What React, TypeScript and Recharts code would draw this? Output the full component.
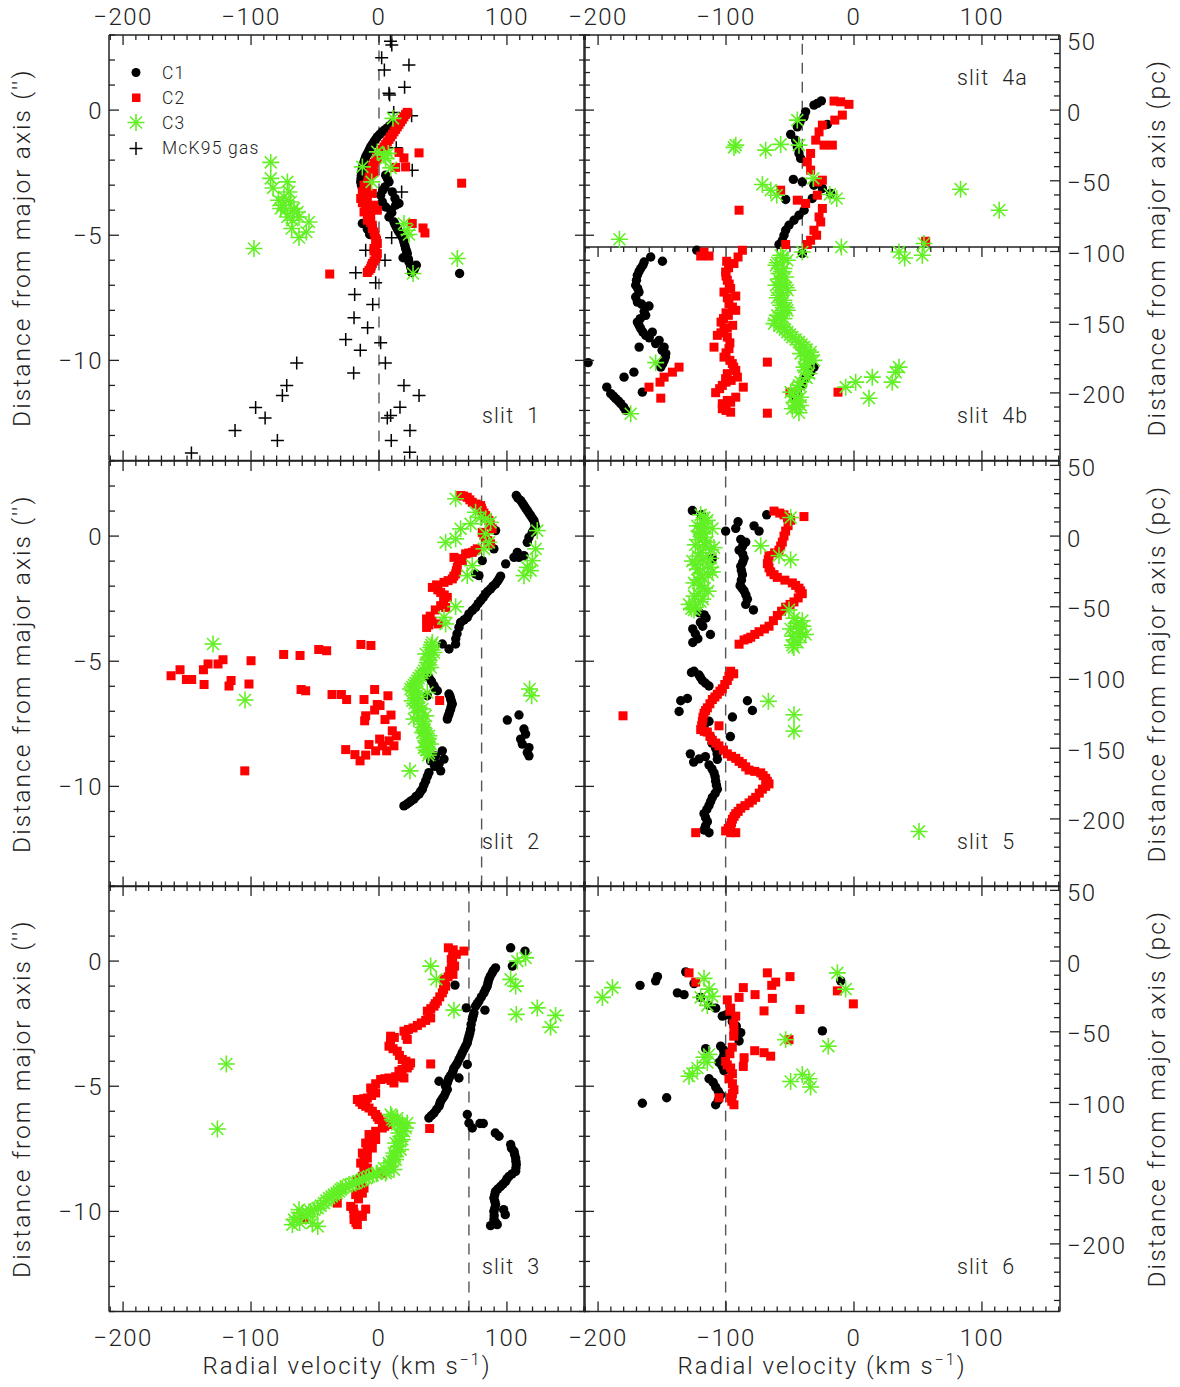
import React from 'react';
import { ScatterChart, Scatter, XAxis, YAxis, ReferenceLine, ReferenceDot, Legend } from 'recharts';

type P = [number, number]; // [radial velocity km/s, distance arcsec]

// ---------- axis tick values ----------
const X_TICKS = [-210, -200, -190, -180, -170, -160, -150, -140, -130, -120, -110, -100, -90, -80, -70, -60, -50, -40, -30, -20, -10, 0, 10, 20, 30, 40, 50, 60, 70, 80, 90, 100, 110, 120, 130, 140, 150, 160];
const Y_TICKS = [-14, -13, -12, -11, -10, -9, -8, -7, -6, -5, -4, -3, -2, -1, 0, 1, 2, 3];
const Y_TICKS_HALF = [-14, -13.5, -13, -12.5, -12, -11.5, -11, -10.5, -10, -9.5, -9, -8.5, -8, -7.5, -7, -6.5, -6, -5.5, -5, -4.5, -4, -3.5, -3, -2.5, -2, -1.5, -1, -0.5, 0, 0.5, 1, 1.5, 2, 2.5, 3];
const PC_TICKS = [-240, -230, -220, -210, -200, -190, -180, -170, -160, -150, -140, -130, -120, -110, -100, -90, -80, -70, -60, -50, -40, -30, -20, -10, 0, 10, 20, 30, 40, 50];
const SEP_TICKS = X_TICKS;

const X_DOMAIN: [number, number] = [-211, 161];
const Y_DOMAIN: [number, number] = [-14, 3];
const PC_PER_ARCSEC = 17.7;
const PC_DOMAIN: [number, number] = [-14 * PC_PER_ARCSEC, 3 * PC_PER_ARCSEC];

// ---------- slit 1 ----------
const slit1Gas: P[] = [[9, 2.75], [10, 2.6], [2.1, 2.09], [4.2, 1.6], [23.4, 1.8], [20, 0.91], [7.8, 0.67], [8.3, 0.6], [25.5, -0.23], [11.5, -0.1], [13.5, -1.5], [26, -2.4], [17.7, -3.27], [9.9, -5.1], [-10.4, -5.6], [4.7, -6.0], [-18.2, -6.5], [-2.6, -6.9], [-19, -7.37], [-4.9, -7.77], [-19.5, -8.3], [-8.9, -8.7], [-26, -9.17], [-14.6, -9.6], [1.3, -9.3], [5, -10.1], [-64.3, -10.1], [-19.8, -10.5], [-72.1, -11], [-75.5, -11.4], [19.5, -11], [31.3, -11.4], [16.4, -11.87], [9.1, -12.2], [6.5, -12.3], [-96.4, -11.88], [-89, -12.3], [-112.5, -12.8], [24.2, -12.8], [-79.4, -13.2], [9.6, -13.2], [-146.6, -13.7], [24, -13.67]];
const slit1C1: P[] = [[10.4, -0.53], [6.5, -0.71], [2.6, -0.87], [-1.3, -1.07], [-3.9, -1.27], [-6.5, -1.47], [-8.3, -1.67], [-10.4, -1.87], [-11.7, -2.07], [-13.0, -2.33], [-13.8, -2.6], [-14.3, -2.87], [-13.0, -3.13], [5.2, -2.6], [7.8, -2.87], [4.7, -3.07], [1.3, -3.4], [2.6, -3.67], [5.2, -3.87], [9.1, -4.0], [7.8, -4.27], [11.7, -4.47], [13.5, -4.67], [15.6, -4.87], [18.2, -5.07], [19.5, -5.27], [20.8, -5.53], [22.1, -5.73], [18.8, -5.9], [23.4, -6.07], [24.7, -6.27], [27.3, -6.4], [29.2, -6.2], [25.5, -6.49], [-13.0, -4.53], [-9.1, -4.76], [-7.3, -4.97], [63.0, -6.53], [15.6, -3.73], [12.5, -3.53], [13.0, -3.8], [10.4, -3.27],
  [8.5, -0.62], [4.5, -0.79], [0.6, -0.97], [-2.6, -1.17], [-5.2, -1.37], [-7.4, -1.57], [-9.4, -1.77], [-11, -1.97], [-12.4, -2.2], [-13.5, -2.47], [-14, -2.73], [-13.7, -3.0], [6.5, -2.73], [3, -3.2], [10, -4.1], [12.6, -4.57], [14.5, -4.77], [16.9, -4.97], [19, -5.17], [20.2, -5.4], [21.5, -5.63], [23, -5.95], [26, -6.35], [28, -6.3]];
const slit1C2: P[] = [[22.1, -0.09], [19.5, -0.27], [16.9, -0.47], [14.3, -0.67], [11.7, -0.87], [9.1, -1.07], [6.5, -1.27], [3.9, -1.47], [1.3, -1.67], [-1.3, -1.87], [-3.9, -2.13], [-6.5, -2.4], [-7.8, -2.67], [-9.1, -2.93], [-10.4, -3.2], [-13.0, -3.27], [-14.3, -3.53], [-9.1, -3.67], [-7.8, -3.93], [-6.5, -4.2], [-9.1, -4.4], [-5.2, -4.6], [-3.9, -4.87], [-2.6, -5.13], [-1.3, -5.33], [-3.9, -5.53], [-1.3, -5.73], [-2.6, -5.93], [-5.2, -6.13], [-6.5, -6.33], [-9.1, -6.49], [-11.7, -3.0], [-5.2, -3.33], [31.3, -1.71], [15.6, -1.69], [19.5, -1.91], [13, -2.29], [20.8, -2.27], [64.6, -2.92], [26, -4.53], [34.4, -4.71], [35.9, -4.91], [-38.5, -6.55],
  [20.8, -0.17], [18.2, -0.37], [15.6, -0.57], [13, -0.77], [10.4, -0.97], [7.8, -1.17], [5.2, -1.37], [2.6, -1.57], [0, -1.77], [-2.6, -2.0], [-5.2, -2.27], [-6.5, -2.53], [-8.5, -2.8], [-9.8, -3.07], [-12, -3.4], [-13, -3.7], [-10.4, -3.8], [-11.7, -4.07], [-8.5, -4.07], [-7.8, -4.33], [-6.5, -4.5], [-5.2, -4.73], [-3.2, -5.0], [-1.9, -5.2], [-2.6, -5.43], [-3.9, -5.63], [-1.9, -5.83], [-3.9, -6.03], [-6, -6.23], [-7.8, -6.4], [-1.3, -4.0], [-3.9, -3.8], [-2, -1.97], [-4, -2.5]];
const slit1C3: P[] = [[-84.6, -2.09], [-84.6, -2.73], [-82.8, -3.11], [-71.6, -2.87], [-70.3, -3.27], [-78.6, -3.6], [-75.5, -3.8], [-72.9, -4.0], [-69, -3.67], [-66.4, -3.93], [-63.8, -4.07], [-71.6, -4.27], [-67.7, -4.4], [-62.5, -4.27], [-68.2, -4.73], [-54.7, -4.47], [-56.8, -4.87], [-62.5, -5.09], [-76.8, -3.93], [-74.2, -3.47], [-97.7, -5.53], [10.9, -0.33], [-1.3, -1.67], [3.9, -1.8], [7.3, -1.73], [5.2, -1.93], [9.1, -2.31], [-13, -2.27], [-5.7, -2.87], [19.5, -4.53], [22.1, -4.8], [23.4, -4.97], [26.6, -6.53], [61.2, -5.93]];

// ---------- slit 4 (4a above the split, 4b below) ----------
const slit4Split = -5.47;
const slit4aSystemic = -40.4;
const slit4C1: P[] = [[-25.5, 0.37], [-28.6, 0.27], [-31.3, 0.2], [-37.8, -0.07], [-39, -0.27], [-42.2, -0.47], [-44.3, -0.67], [-49.5, -0.97], [-45.6, -1.2], [-44.3, -1.47], [-43, -1.73], [-41.7, -1.93], [-47.4, -2.77], [-40.4, -2.87], [-31.3, -3], [-24.7, -3.13], [-18.2, -3.33], [-53.4, -3.57], [-32.6, -3.53], [-39, -4], [-43, -4.2], [-46.9, -4.4], [-50.8, -4.6], [-53.4, -4.8], [-54.7, -5], [-56, -5.2], [-58.6, -5.37], [-20.8, -0.57],
  [-122.9, -5.6], [-40.4, -5.73], [-158.9, -5.87], [-164, -6.07], [-149.7, -6.04], [-166.7, -6.33], [-169.3, -6.6], [-170.6, -7], [-168, -7.27], [-170.6, -7.47], [-169.3, -7.67], [-160.2, -7.83], [-162.8, -8.2], [-169.3, -8.47], [-166.7, -8.73], [-162.8, -9], [-157.6, -8.87], [-152.3, -9.2], [-148.4, -9.47], [-147.1, -9.73], [-148.4, -10], [-151, -10.27], [-167.9, -9.47], [-172, -10.47], [-179.7, -10.67], [-165.4, -11.27], [-193.2, -11.07], [-190.1, -11.33], [-186.2, -11.53], [-182.3, -11.73], [-178.4, -12], [-207.8, -10.09], [-31.3, -10.27], [-33.9, -10.47], [-37.8, -10.73], [-40.4, -11], [-44.3, -11.27], [-45.6, -11.47],
  [-165, -6.2], [-168, -6.45], [-170, -6.8], [-169, -7.13], [-166, -7.75], [-164, -8.05], [-167, -8.33], [-168, -8.6], [-165, -8.87], [-160, -9.1], [-155, -9.33], [-150, -9.6], [-147.5, -9.87], [-149.5, -10.13], [-188, -11.43], [-184, -11.63], [-180, -11.87]];
const slit4C2: P[] = [[-15.6, 0.36], [-10.4, 0.33], [-3.9, 0.23], [-9.1, -0.2], [-15, -0.4], [-24.7, -0.6], [-27.3, -0.87], [-29.9, -1.2], [-16.9, -1.4], [-23.4, -1.4], [-33.9, -1.73], [-36.5, -2.07], [-33.9, -2.4], [-24.7, -2.8], [-28.6, -2.87], [-57.3, -3.2], [-44.3, -3.6], [-37.8, -3.73], [-28.6, -3.4], [-24.7, -3.93], [-27.3, -4.27], [-26, -4.47], [-31.3, -4.8], [-29.2, -5], [-33.9, -5.2], [-36.5, -5.37], [-89.8, -4], [-53.4, -5.37], [56, -5.24],
  [-117.2, -5.67], [-119.8, -5.83], [-113.3, -5.83], [-87.2, -5.6], [-90.6, -5.87], [-93.8, -6.13], [-99.5, -6.04], [-100.3, -6.47], [-99, -6.8], [-96.4, -7.13], [-101.6, -7.27], [-92.4, -7.43], [-97.7, -7.73], [-92.4, -8], [-98.2, -8.2], [-103.9, -8.47], [-94.8, -8.6], [-101.6, -8.8], [-106.8, -9], [-99, -9.07], [-109.4, -9.47], [-97.7, -9.53], [-101.6, -9.87], [-95.1, -10.13], [-92.4, -10.4], [-99, -10.53], [-91.1, -10.67], [-100.3, -10.73], [-102.9, -11], [-86.5, -11.07], [-108.1, -11.29], [-92.4, -11.47], [-96.4, -11.67], [-102.9, -11.73], [-102.9, -11.93], [-96.4, -12.07], [-67.7, -10.07], [-67.7, -12.11], [-136.7, -10.27], [-141.9, -10.47], [-148.4, -10.67], [-151.6, -10.87], [-160.2, -11.07], [-151, -11.51], [-50, -11.27], [-12.5, -11.27],
  [-98, -6.3], [-100, -6.63], [-97.5, -6.95], [-99, -7.5], [-95, -7.87], [-100, -8.1], [-102, -8.33], [-99, -8.7], [-104, -8.9], [-97, -9.3], [-100, -9.7], [-97, -10.0], [-94, -10.27], [-96, -10.8], [-100, -10.87], [-105, -11.13], [-99, -11.6], [-100, -12.0]];
const slit4C3: P[] = [[-44.3, -0.4], [-43, -1.4], [-93.8, -1.49], [-92.4, -1.4], [-69, -1.6], [-57.3, -1.37], [-71.6, -2.97], [-65, -3.2], [-60.4, -3.4], [-31.8, -2.73], [-18.8, -3.37], [-13.5, -3.53], [83.3, -3.16], [113.5, -4], [-183.3, -5.16], [54.7, -5.33], [-9.9, -5.47],
  [-57.3, -5.8], [-52.1, -6], [-61, -6.2], [-54.7, -6.33], [-58.6, -6.53], [-53.4, -6.67], [-61, -7], [-55.7, -7], [-51.8, -7.2], [-58.6, -7.4], [-54.7, -7.6], [-57.3, -7.8], [-52.1, -8], [-59.9, -8.2], [-54.7, -8.33], [-62.5, -8.53], [-56, -8.67], [-52.1, -8.87], [-48.2, -9.07], [-43, -9.27], [-39, -9.47], [-33.9, -9.67], [-41.7, -9.73], [-36.5, -9.93], [-31.3, -10], [-39, -10.27], [-35.2, -10.53], [-41.7, -10.87], [-44.3, -11.13], [-49.5, -11.27], [-41.7, -11.47], [-46.9, -11.67], [-41.7, -11.8], [-48.2, -11.93], [-43, -12.09], [-55.2, -5.91], [-57.8, -6.87], [-54.7, -8],
  [-56, -5.9], [-60, -6.1], [-56.5, -6.45], [-59, -6.75], [-56, -6.9], [-53, -7.1], [-57, -7.3], [-60, -7.5], [-56, -7.7], [-53, -7.9], [-57, -8.1], [-61, -8.4], [-58, -8.6], [-54, -8.77], [-50, -8.97], [-45.5, -9.17], [-41, -9.37], [-37, -9.57], [-38, -9.83], [-34, -9.8], [-37, -10.13], [-38, -10.4], [-37, -10.7], [-43, -11], [-47, -11.4], [-44, -11.6], [-45, -11.85],
  [-40.4, -5.67], [35.2, -5.67], [39.6, -5.91], [53.4, -5.8], [-155, -10.09], [-174.5, -12.13], [-6.5, -11.07], [1.3, -10.87], [14.3, -10.67], [11.7, -11.51], [29.9, -10.87], [32.6, -10.47], [35.2, -10.27]];

// ---------- slit 2 ----------
const slit2Systemic = 80.2;
const slit2C1: P[] = [[107.3, 1.62], [110.7, 1.42], [113.3, 1.22], [115.9, 1.02], [118.5, 0.82], [121.1, 0.62], [122.4, 0.35], [119.8, 0.15], [117.2, -0.05], [115.9, -0.25], [108.1, -0.65], [105.5, -0.85], [99, -1.11], [109.4, -0.85], [113.3, -0.78],
  [108.5, 1.52], [112, 1.32], [114.6, 1.12], [117.2, 0.92], [119.8, 0.72], [121.8, 0.48], [121, 0.25],
  [93.8, -1.71], [91.1, -1.91], [87.2, -2.11], [83.3, -2.31], [79.4, -2.58], [75.5, -2.85], [70.3, -3.11], [69, -3.25], [63.8, -3.45], [62.5, -3.65], [59.9, -4.31], [54.7, -4.51], [49.5, -4.31],
  [95, -1.6], [92.5, -1.81], [89, -2.0], [85, -2.21], [81.5, -2.45], [77.5, -2.7], [73, -2.97], [66.5, -3.35], [61, -3.9], [60, -4.1],
  [91.1, 0.22], [89.8, -0.51], [80.7, -0.98], [78.1, -1.58], [75.5, -1.51],
  [39, -5.65], [43, -5.98], [45.6, -6.18], [37.8, -6.38], [54.7, -6.31], [56, -6.51], [57.3, -6.71], [56, -6.91], [54.7, -7.11], [53.4, -7.31], [49.5, -8.58], [50.8, -8.91], [48.2, -9.38], [44.3, -8.78], [40.4, -8.98], [39, -9.45], [36.5, -9.78], [33.9, -10.11], [31.3, -10.31], [27.3, -10.51], [23.4, -10.65], [19.5, -10.78],
  [47, -9.1], [43.5, -9.2], [37.8, -9.6], [35, -9.95], [32.5, -10.2], [29, -10.4], [25, -10.58], [21.5, -10.72], [41, -5.8], [44, -6.1], [55.5, -6.4], [56.6, -6.6], [56.5, -6.8], [55.3, -7.0], [54, -7.2],
  [100.3, -7.35], [109.4, -7.15], [113.3, -7.71], [114.6, -7.91], [110.7, -8.11], [112, -8.31], [117.2, -8.45], [115.9, -8.65], [117.2, -8.78]];
const slit2C2: P[] = [[63.8, 1.62], [69, 1.55], [72.9, 1.35], [79.4, 1.22], [80.7, 1.02], [83.3, 0.82], [85.9, 0.62], [88.5, 0.29], [80.7, 0.15], [83.3, -0.05], [87.2, -0.31], [76.8, -0.51], [72.9, -0.65], [67.7, -0.71], [58.6, -0.85], [65.1, -0.98], [61.2, -1.25], [59.9, -1.51], [57.3, -1.71], [50.8, -1.85], [41.7, -2.05], [48.2, -2.25], [53.4, -2.45], [48.2, -2.78], [52.1, -2.85], [37.2, -3.31], [37.2, -3.65], [46.3, -3.51],
  [66, 1.6], [71, 1.45], [76, 1.28], [80, 1.12], [82, 0.92], [84.6, 0.72], [87, 0.45], [82, 0.02], [85, -0.18], [75, -0.58], [70, -0.68], [62, -0.9], [60.5, -1.38], [58.5, -1.6], [54, -1.78], [45, -1.95], [46, -2.15], [51, -2.35], [50.5, -2.6], [44, -2.95], [40, -3.2], [41.5, -3.4], [39, -3.55],
  [-162.5, -5.58], [-155.5, -5.34], [-150.5, -5.73], [-146.4, -5.73], [-137.2, -5.34], [-133.6, -5.11], [-136.7, -5.93], [-125.8, -5.11], [-121.9, -4.94], [-115.6, -5.77], [-117.2, -5.99], [-101.6, -5.91], [-100, -4.98], [-74.5, -4.73], [-61.7, -4.77], [-47.1, -4.53], [-40.9, -4.58], [-14.1, -4.33], [-6.3, -4.37], [-60.9, -6.13], [-57.3, -6.18], [-36.7, -6.33], [-29.4, -6.33], [-25.3, -6.53], [-3.4, -6.13], [7, -6.38], [-11.7, -6.53], [-1.3, -6.73], [0.8, -6.77], [-3.4, -6.95], [-10.4, -7.18], [-11.2, -7.38], [4.7, -7.33], [9.4, -7.15], [47.4, -6.57], [10.4, -7.78], [13.5, -7.98], [7.8, -8.18], [11.7, -8.38], [0.5, -8.11], [-7.8, -8.33], [2.6, -8.38], [-2.6, -8.58], [6, -8.58], [-26, -8.53], [-18.8, -8.73], [-10.4, -8.75], [-14.8, -8.98], [-104.9, -9.38]];
const slit2C3: P[] = [[-129.7, -4.31], [-104.7, -6.55], [59.9, 1.49], [75.5, 0.95], [79.4, 0.75], [83.3, 0.69], [87.2, 0.55], [71.6, 0.49], [63.8, 0.29], [59.9, -0.11], [52.1, -0.25], [83.3, 0.09], [85.9, -0.25], [82, -0.51], [72.9, -1.18], [69, -1.58], [59.9, -2.82], [50.8, -3.25], [52.1, -3.51], [123.7, 0.22], [122.4, -0.51], [119.8, -0.98], [115.9, -1.25], [113.3, -1.58], [118.5, -1.38], [117.7, -6.11], [119.3, -6.38], [24.2, -9.38],
  [41.7, -4.25], [40.4, -4.45], [43, -4.65], [39, -4.85], [37.8, -5.05], [40.4, -5.25], [35.2, -5.38], [32.6, -5.58], [29.9, -5.78], [27.3, -5.95], [24.7, -6.11], [28.6, -6.25], [31.3, -6.45], [26, -6.58], [29.9, -6.78], [33.9, -6.91], [27.3, -7.31], [36.5, -7.18], [33.9, -7.51], [35.2, -7.78], [39, -7.98], [36.5, -8.18], [40.4, -8.31], [35.2, -8.45], [39, -8.65], [33.9, -7.85], [36.5, -4.71], [37.8, -6.25],
  [41, -4.35], [41.5, -4.55], [41, -4.75], [38.5, -4.95], [39, -5.15], [37.5, -5.3], [34, -5.48], [31, -5.68], [28.5, -5.87], [26, -6.03], [26.5, -6.18], [30, -6.35], [28.5, -6.5], [28, -6.68], [31.5, -6.85], [30, -7.05], [31, -7.24], [35, -7.4], [34.5, -7.65], [37, -7.9], [37.5, -8.08], [38, -8.25], [37.5, -8.4], [37, -8.55], [38.5, -8.75]];

// ---------- slit 3 ----------
const slit3Systemic = 70.3;
const slit3C1: P[] = [[102.9, 0.53], [114.1, 0.4], [104.2, -0.2], [91.1, -0.27], [88.5, -0.47], [85.9, -0.73], [84.6, -1], [82, -1.27], [78.1, -1.6], [75.5, -1.8], [68.2, -1.87], [74.2, -2.07], [72.9, -2.33], [82.8, -1.96], [71.6, -2.73], [70.3, -3], [69, -3.27], [66.4, -3.53], [63.8, -3.8], [69, -4.13], [61.2, -4.07], [58.6, -4.27], [57.3, -4.47], [62.5, -4.67], [54.7, -4.67], [53.4, -4.87], [46.9, -4.8], [53.4, -5.13], [50.8, -5.4], [48.2, -5.6], [46.9, -5.8], [43, -6.07], [39, -6.27], [59.4, -0.96],
  [89.5, -0.37], [87, -0.6], [85.2, -0.87], [83.3, -1.13], [80, -1.43], [76.8, -1.7], [73.5, -2.2], [72, -2.53], [71, -2.87], [69.6, -3.13], [67.7, -3.4], [65, -3.67], [62.5, -3.93], [60, -4.17], [58, -4.37], [56, -4.57], [54, -4.77], [52, -5.0], [52, -5.27], [49.5, -5.5], [47.5, -5.7], [45, -5.93], [41, -6.17],
  [69, -6.13], [70.3, -6.47], [72.9, -6.67], [78.9, -6.49], [81.5, -6.49], [90.9, -6.87], [93.8, -7], [102.9, -7.33], [105.5, -7.6], [106.8, -7.87], [107.3, -8.13], [106.8, -8.4], [101.6, -8.6], [99, -8.8], [95.1, -9], [91.1, -9.2], [89.8, -9.47], [91.1, -9.73], [89.8, -10], [97.4, -9.93], [98.7, -10.13], [89.8, -10.33], [92.4, -10.53], [87.2, -10.57],
  [103.5, -7.47], [106, -7.73], [107, -8.0], [107, -8.27], [104, -8.5], [100, -8.7], [97, -8.9], [93, -9.1], [90.5, -9.33], [90.5, -9.6], [90.5, -9.87], [90, -10.17], [91, -10.43]];
const slit3C2: P[] = [[54.2, 0.53], [66.4, 0.4], [60.4, 0.27], [56.5, 0.07], [59.1, -0.2], [55.2, -0.4], [57.8, -0.53], [50.8, -0.73], [52.1, -1], [49.5, -1.27], [45.6, -1.6], [43, -1.8], [37.8, -2], [40.4, -2.27], [33.1, -2.47], [26.6, -2.67], [19.5, -2.8], [22.1, -3.13], [9.1, -3], [7.8, -3.4], [14.3, -3.6], [18.2, -3.93], [24.7, -4.07], [22.1, -4.27], [15.6, -4.4], [19.5, -4.67], [7.8, -4.67], [11.7, -4.87], [1.3, -4.73], [-6.5, -5.07], [-2.6, -5.27], [-9.1, -5.47], [-16.9, -5.53], [-13, -5.73], [-7.8, -5.87], [-2.6, -6.13], [0, -6.33], [6.5, -6.53], [2.6, -6.67], [-7.8, -6.93], [-2.6, -7.13], [-10.4, -7.27], [-5.2, -7.47], [-13, -7.67], [-9.1, -7.87], [-14.3, -8.07], [-9.1, -8.27], [1.3, -8.47], [-13, -8.6], [-16.9, -8.8], [-11.7, -9.07], [-18.2, -9.33], [-13, -9.27], [-32.6, -9.67], [-22.1, -9.8], [-10.4, -9.91], [-19.5, -10.07], [-13, -10.2], [-19.5, -10.33], [-16.9, -10.53], [-58.6, -10.31], [40.4, -4.11], [39.6, -6.69],
  [58, 0.45], [57.5, 0.17], [57.5, -0.07], [56.5, -0.3], [54, -0.63], [51, -0.87], [50.5, -1.13], [47.5, -1.43], [44, -1.7], [40.5, -1.9], [39, -2.13], [36.5, -2.37], [30, -2.57], [23, -2.73], [21, -2.97], [12, -3.05], [9, -3.2], [11, -3.5], [16, -3.77], [21, -4.0], [23.5, -4.17], [18, -4.33], [17.5, -4.55], [13, -4.62], [9.5, -4.77], [4.5, -4.7], [-2.6, -4.9], [-4.5, -5.17], [-5.8, -5.37], [-12, -5.5], [-15, -5.63], [-10.4, -5.8], [-5.2, -6.0], [-1.3, -6.23], [3.2, -6.43], [4.5, -6.6], [-2.6, -6.8], [-5.2, -7.03], [-6.5, -7.2], [-7.8, -7.37], [-9.1, -7.57], [-11, -7.77], [-11.7, -7.97], [-11.7, -8.17], [-11.7, -8.37], [-14.5, -8.7], [-14.3, -8.93], [-15, -9.2], [-16, -9.5], [-20, -9.9], [-16, -10.15], [-18, -10.45]];
const slit3C3: P[] = [[40.4, -0.2], [44.8, -0.73], [58.6, -1.96], [-119.3, -4.11], [-126.3, -6.71], [102.9, -0.73], [106.8, -1], [108.1, 0], [114.6, 0.13], [107.3, -2.13], [123.7, -1.87], [138, -2.17], [134.1, -2.64],
  [9.1, -6.13], [14.3, -6.27], [18.2, -6.47], [20.8, -6.67], [15.6, -6.87], [18.2, -7.13], [13, -7.27], [16.9, -7.53], [11.7, -7.67], [13, -7.93], [7.8, -8.07], [11.7, -8.33], [3.9, -8.27], [-1.3, -8.47], [5.2, -8.47], [-7.8, -8.6], [-13, -8.73], [-18.2, -8.87], [-23.4, -8.93], [-28.6, -9.07], [-31.3, -9.2], [-35.2, -9.33], [-39, -9.47], [-43, -9.67], [-47.9, -9.87], [-53.4, -10], [-62.5, -9.93], [-57.3, -10.2], [-66.4, -10.33], [-67.7, -10.53], [-52.1, -10.47], [-47.9, -10.6], [10.4, -6.33], [22.1, -6.47], [14.3, -6.53],
  [-2, -8.5], [-5, -8.55], [-10, -8.67], [-15.5, -8.8], [-20.8, -8.9], [-26, -9.0], [-30, -9.13], [-33, -9.27], [-37, -9.4], [-41, -9.57], [-45.5, -9.77], [-50.5, -9.93], [-55, -10.1], [-60, -10.07], [-64, -10.25], [-62, -10.45], [10, -6.2], [12, -6.4], [16.5, -6.55], [19.5, -6.8], [17, -7.0], [16.5, -7.2], [15, -7.4], [14.5, -7.6], [12.5, -7.8], [10, -8.0], [9, -8.2], [6, -8.4]];

// ---------- slit 5 ----------
const slit5Systemic = -100.3;
const slit5C1: P[] = [[-126.3, 1.02], [-119.3, 0.85], [-100.3, 0.2], [-92.4, 0.31], [-90.6, 0.57], [-78.1, 0.41], [-74.2, 0.2], [-68.2, 0.85], [-88.5, -0.13], [-84.6, -0.24], [-89.8, -0.56], [-85.9, -0.89], [-88.5, -1.21], [-87.2, -1.54], [-89, -1.98], [-85.9, -2.19], [-83.3, -2.52], [-84.6, -2.73], [-78.6, -2.95], [-121.1, -3.06], [-115.6, -3.27], [-118.2, -3.6], [-126, -3.71], [-112.2, -3.93], [-126, -4.25], [-110.7, -0.89],
  [-87, -0.4], [-87, -0.72], [-87, -1.05], [-88, -1.37], [-88, -1.76], [-87.5, -2.08], [-84.5, -2.35], [-117, -3.15], [-120, -3.45], [-124, -3.9], [-122, -4.1],
  [-125, -5.4], [-121.1, -5.55], [-118.5, -5.77], [-113.3, -5.99], [-130.2, -6.49], [-135.4, -6.58], [-136.7, -7.01], [-83.3, -6.58], [-79.4, -6.97], [-95, -7.23], [-113.3, -7.4], [-117.2, -7.62], [-112, -8.05], [-96.6, -8.01], [-127.9, -8.7], [-125.3, -9.03], [-116.1, -8.81], [-113.3, -9.14], [-109.4, -9.46], [-108.1, -9.79], [-106.8, -10.11], [-110.7, -10.44], [-113.3, -10.76], [-117.2, -11.09], [-114.6, -11.41], [-117.2, -11.74], [-113.3, -11.85], [-108.1, -8.48], [-106.8, -8.92],
  [-127, -5.45], [-120, -5.65], [-116, -5.88], [-111, -8.27], [-107, -8.7], [-121, -8.9], [-111, -9.3], [-108.5, -9.62], [-107.5, -9.95], [-108.5, -10.28], [-112, -10.6], [-115, -10.92], [-116, -11.25], [-116, -11.58]];
const slit5C2: P[] = [[-62.5, 1], [-54.7, 0.85], [-49.5, 0.63], [-39.1, 0.78], [-53.4, 0.2], [-56, -0.24], [-58.6, -0.56], [-66.4, -0.78], [-67.7, -1.1], [-65.1, -1.43], [-59.9, -1.65], [-48.2, -1.87], [-43, -2.08], [-40.4, -2.3], [-46.9, -2.63], [-53.4, -2.84], [-59.9, -3.17], [-66.4, -3.6], [-74.2, -3.82], [-80.7, -4.04], [-85.9, -4.15], [-89.8, -4.32],
  [-58, 0.92], [-52, 0.74], [-51.5, 0.42], [-54.7, 0.0], [-57.3, -0.4], [-62, -0.67], [-67, -0.94], [-66.4, -1.27], [-62.5, -1.54], [-54, -1.76], [-45.6, -1.97], [-41.7, -2.19], [-43.6, -2.47], [-50, -2.73], [-56.6, -3.0], [-63, -3.38], [-70, -3.71], [-77.5, -3.93], [-83, -4.1],
  [-96.4, -5.4], [-99, -5.77], [-102.9, -6.1], [-106.8, -6.32], [-110.7, -6.53], [-114.6, -6.86], [-117.2, -7.08], [-118.5, -7.4], [-119.8, -7.73], [-105.5, -7.58], [-114.6, -7.83], [-110.7, -8.16], [-105.5, -8.38], [-99, -8.7], [-92.4, -8.88], [-87.2, -9.09], [-82, -9.35], [-72.9, -9.46], [-69, -9.68], [-66.4, -9.9], [-71.6, -10.11], [-76.8, -10.44], [-82, -10.66], [-88.5, -10.87], [-92.4, -11.09], [-95, -11.31], [-96.4, -11.57], [-100.3, -11.78], [-92.4, -11.85], [-123.7, -11.85], [-180.5, -7.18],
  [-94, -5.5], [-97.7, -5.6], [-101, -5.93], [-104.8, -6.2], [-108.7, -6.43], [-112.6, -6.7], [-116, -6.97], [-118, -7.24], [-119, -7.57], [-117, -7.8], [-112.6, -8.0], [-108, -8.27], [-102, -8.55], [-95.7, -8.8], [-89.8, -9.0], [-84.6, -9.22], [-77.5, -9.4], [-71, -9.57], [-67.7, -9.8], [-69, -10.0], [-74, -10.27], [-79.4, -10.55], [-85.2, -10.77], [-90.5, -11.0], [-93.7, -11.2], [-95.7, -11.45], [-98.3, -11.68], [-96.4, -11.85]];
const slit5C3: P[] = [[-119.8, 0.85], [-114.6, 0.63], [-122.4, 0.41], [-110.7, 0.3], [-118.5, 0.09], [-114.6, -0.24], [-124, -0.35], [-109.4, -0.46], [-119.8, -0.67], [-126.3, -1], [-114.6, -1.1], [-122.4, -1.32], [-110.7, -1.43], [-118.5, -1.65], [-125, -1.87], [-116.7, -2.08], [-121.9, -2.3], [-118.2, -2.52], [-128.9, -2.73], [-125, -2.95], [-121.1, 0.2], [-112, -0.89],
  [-117, 0.74], [-118, 0.52], [-116, 0.35], [-120, 0.15], [-117, -0.05], [-121, -0.15], [-116, -0.4], [-112, -0.55], [-122, -0.8], [-118, -0.95], [-124, -1.15], [-112, -1.25], [-120, -1.5], [-114, -1.55], [-122, -1.75], [-120, -1.97], [-114, -2.2], [-125, -2.4], [-120, -2.62], [-124, -2.85], [-127, -2.9],
  [-49.5, 0.74], [-72.9, -0.39], [-58.6, -0.78], [-49.5, -0.95], [-50.8, -2.95], [-46.9, -3.28], [-40.4, -3.38], [-49.5, -3.71], [-43, -3.71], [-37.8, -3.93], [-46.9, -4.15], [-41.7, -4.04], [-48.2, -4.36], [-44.3, -3.49],
  [-45, -3.6], [-42, -3.85], [-48, -4.0], [-44, -4.25], [-47, -4.45], [-40, -3.6],
  [-66.9, -6.6], [-46.9, -7.14], [-46.9, -7.79], [50.8, -11.8]];

// ---------- slit 6 ----------
const slit6Systemic = -100.3;
const slit6C1: P[] = [[-167.2, -0.97], [-155, -0.79], [-153.6, -0.62], [-138, -1.27], [-132.8, -1.34], [-131.5, -0.43], [-125, -0.9], [-119.8, -1.45], [-113.3, -1.77], [-108.1, -1.88], [-102.9, -2.2], [-97.7, -2.1], [-95.1, -2.42], [-88.5, -2.86], [-89.8, -3.19], [-104.2, -3.4], [-101.6, -3.73], [-105.5, -4.05], [-101.6, -4.38], [-113.3, -4.7], [-108.1, -5.03], [-104.2, -5.35], [-108.1, -5.74], [-165.4, -5.68], [-146.4, -5.46], [-24.7, -2.79], [-10.4, -0.79], [-115.9, -3.5],
  [-100, -2.15], [-92, -2.6], [-102, -3.55], [-103, -3.9], [-103, -4.2], [-110, -4.85], [-106, -5.2], [-106, -5.55]];
const slit6C2: P[] = [[-128.9, -0.47], [-123.7, -0.84], [-99, -1.55], [-96.4, -1.88], [-92.4, -2.2], [-93.8, -2.75], [-95.1, -3.44], [-100.3, -4.01], [-96.4, -4.27], [-97.7, -4.7], [-93.8, -5.14], [-96.4, -5.46], [-93.8, -5.74], [-105.5, -5.46], [-89.8, -1.45], [-86.5, -1.06], [-77.3, -1.34], [-70.3, -1.99], [-63.8, -1.49], [-64.3, -0.97], [-61.2, -0.84], [-67.7, -0.47], [-50, -0.62], [-42.2, -1.93], [-50.8, -3.14], [-77.6, -3.58], [-70.3, -3.66], [-65.1, -3.8], [-85.9, -3.86], [-86.5, -4.21], [-13, -1.19], [-0.5, -1.71],
  [-97, -2.0], [-94, -2.5], [-94, -3.0], [-97, -3.7], [-99, -4.15], [-95, -4.5], [-95, -4.9], [-95, -5.3], [-95.5, -5.6]];
const slit6C3: P[] = [[-196.6, -1.45], [-188.8, -1.06], [-117.2, -0.69], [-113.3, -1.12], [-110.7, -1.41], [-114.6, -1.77], [-119.8, -1.45], [-13, -0.47], [-6.5, -1.12], [-53.4, -3.14], [-20.1, -3.4], [-126.3, -4.49], [-122.4, -4.27], [-117.2, -3.84], [-113.3, -3.73], [-128.9, -4.6], [-114.6, -4.05], [-49.5, -4.81], [-40.4, -4.53], [-35.2, -4.7], [-33.9, -5.03]];

// ---------- styling ----------
const FONT = 'Roboto, "DejaVu Sans", sans-serif';
const TXT = '#222';
const AX = '#222';
const GREEN = '#62f024';
const RED = '#ff0000';
const PW = 476;
const PH = 425.5;
const MT = 35;
const MB = 76;
const COLX = [109, 584];
const ROWY = [35, 460.5, 886];

const tickText: React.CSSProperties = { fontFamily: FONT, fontWeight: 300, fontSize: 24, letterSpacing: 1.5 };
const fmt = (n: number) => (n < 0 ? '\u2212' + Math.abs(n) : String(n));
const isMul = (v: number, m: number) => Math.abs(v / m - Math.round(v / m)) < 1e-6;
const toObj = (arr: P[]) => arr.map(([v, a]) => ({ v, a }));

const Dot = (p: any) => (p.cx == null ? <g /> : <circle cx={p.cx} cy={p.cy} r={4.7} fill="#000" />);
const Square = (p: any) => (p.cx == null ? <g /> : <rect x={p.cx - 4.5} y={p.cy - 4.5} width={9} height={9} fill={RED} />);
const Star = (p: any) => {
  if (p.cx == null) return <g />;
  const s = 8.5, d = 6;
  return (
    <g stroke={GREEN} strokeWidth={1.6}>
      <line x1={p.cx - s} y1={p.cy} x2={p.cx + s} y2={p.cy} />
      <line x1={p.cx} y1={p.cy - s} x2={p.cx} y2={p.cy + s} />
      <line x1={p.cx - d} y1={p.cy - d} x2={p.cx + d} y2={p.cy + d} />
      <line x1={p.cx - d} y1={p.cy + d} x2={p.cx + d} y2={p.cy - d} />
    </g>
  );
};
const Plus = (p: any) => {
  if (p.cx == null) return <g />;
  const s = 6.5;
  return (
    <g stroke="#000" strokeWidth={1.5}>
      <line x1={p.cx - s} y1={p.cy} x2={p.cx + s} y2={p.cy} />
      <line x1={p.cx} y1={p.cy - s} x2={p.cx} y2={p.cy + s} />
    </g>
  );
};

const makeXTick = (side: 'top' | 'bottom', show: boolean) => (p: any) => {
  const { x, y, payload } = p;
  const val = payload.value;
  const major = isMul(val, 100);
  const len = major ? 10 : 5;
  const dir = side === 'bottom' ? -1 : 1;
  return (
    <g>
      <line x1={x} y1={y} x2={x} y2={y + dir * len} stroke={AX} strokeWidth={1.3} />
      {show && major ? (
        <text x={x} y={side === 'bottom' ? y + 34.5 : y - 10} textAnchor="middle" fill={TXT} style={tickText}>{fmt(val)}</text>
      ) : null}
    </g>
  );
};
const makeYTick = (side: 'left' | 'right', show: boolean, majorStep: number) => (p: any) => {
  const { x, y, payload } = p;
  const val = payload.value;
  const major = isMul(val, majorStep);
  const len = major ? 10 : 6;
  const dir = side === 'left' ? 1 : -1;
  return (
    <g>
      <line x1={x} y1={y} x2={x + dir * len} y2={y} stroke={AX} strokeWidth={1.3} />
      {show && major ? (
        <text x={side === 'left' ? x - 6 : x + 7} y={y + (side === 'left' ? 9 : 10.5)} textAnchor={side === 'left' ? 'end' : 'start'} fill={TXT} style={tickText}>{fmt(val)}</text>
      ) : null}
    </g>
  );
};

const titleStyle: React.CSSProperties = { fontFamily: FONT, fontWeight: 300, fontSize: 24, letterSpacing: 2 };
const vTitleStyle: React.CSSProperties = { fontFamily: FONT, fontWeight: 300, fontSize: 24.5, letterSpacing: 2.1 };

const LegendBox = () => {
  const rows = [
    { name: 'C1', el: <circle cx={16} cy={12.5} r={4.5} fill="#000" /> },
    { name: 'C2', el: <rect x={12} y={8.5} width={8.5} height={8.5} fill={RED} /> },
    { name: 'C3', el: <Star cx={16} cy={12.5} /> },
    { name: 'McK95 gas', el: <Plus cx={16} cy={12.5} /> },
  ];
  return (
    <div style={{ position: 'relative', width: 200, height: 100 }}>
      {rows.map((r, i) => (
        <div key={r.name} style={{ position: 'absolute', left: 0, top: i * 25.2, height: 25, display: 'flex', alignItems: 'center' }}>
          <svg width={32} height={25}>{r.el}</svg>
          <span style={{ marginLeft: 10, fontFamily: FONT, fontWeight: 300, fontSize: 17.5, letterSpacing: 1.2, color: TXT, whiteSpace: 'pre' }}>{r.name}</span>
        </div>
      ))}
    </div>
  );
};

type PanelProps = {
  col: 0 | 1;
  row: 0 | 1 | 2;
  c1: P[];
  c2: P[];
  c3: P[];
  gas?: P[];
  dash?: number;
  dashSegmentTo?: number;
  labels: { text: string; v: number; a: number }[];
  split?: number;
  halfTicks?: boolean;
  legend?: boolean;
};

function Panel({ col, row, c1, c2, c3, gas, dash, dashSegmentTo, labels, split, halfTicks, legend }: PanelProps) {
  const ml = col === 0 ? 109 : 60;
  const mr = col === 0 ? 60 : 120;
  const left = COLX[col] - ml;
  const top = ROWY[row] - MT;
  const w = ml + PW + mr;
  const h = MT + PH + MB;
  const dashProps = { stroke: '#555', strokeDasharray: '11 8', strokeWidth: 1.4 };
  return (
    <div style={{ position: 'absolute', left, top, width: w, height: h }}>
      <ScatterChart width={w} height={h} margin={{ top: 0, right: 0, bottom: 0, left: 0 }}>
        <XAxis xAxisId="b" type="number" dataKey="v" orientation="bottom" height={MB} domain={X_DOMAIN} ticks={X_TICKS} interval={0} allowDataOverflow tickSize={0} tickMargin={0} tickLine={false} axisLine={{ stroke: AX, strokeWidth: 1.5 }} tick={makeXTick('bottom', row === 2)}
          label={row === 2 ? () => (
            <text x={ml + PW / 2} y={MT + PH + 62.5} textAnchor="middle" fill={TXT} style={titleStyle}>
              Radial velocity (km s<tspan dy={-9} fontSize={16}>{'\u22121'}</tspan><tspan dy={9}>)</tspan>
            </text>
          ) : undefined} />
        <XAxis xAxisId="t" type="number" dataKey="v" orientation="top" height={MT} domain={X_DOMAIN} ticks={X_TICKS} interval={0} allowDataOverflow tickSize={0} tickMargin={0} tickLine={false} axisLine={{ stroke: AX, strokeWidth: 1.5 }} tick={makeXTick('top', row === 0)} />
        <YAxis yAxisId="l" type="number" dataKey="a" orientation="left" width={ml} domain={Y_DOMAIN} ticks={halfTicks ? Y_TICKS_HALF : Y_TICKS} interval={0} allowDataOverflow tickSize={0} tickMargin={0} tickLine={false} axisLine={{ stroke: AX, strokeWidth: 1.5 }} tick={makeYTick('left', col === 0, 5)}
          label={col === 0 ? () => (
            <text x={30} y={MT + PH / 2} transform={`rotate(-90 30 ${MT + PH / 2})`} textAnchor="middle" fill={TXT} style={vTitleStyle}>Distance from major axis ('')</text>
          ) : undefined} />
        {col === 0 ? (
          <YAxis yAxisId="r" type="number" dataKey="a" orientation="right" width={mr} domain={Y_DOMAIN} ticks={Y_TICKS} interval={0} allowDataOverflow tickSize={0} tickMargin={0} tickLine={false} axisLine={{ stroke: AX, strokeWidth: 1.5 }} tick={makeYTick('right', false, 5)} />
        ) : (
          <YAxis yAxisId="r" type="number" orientation="right" width={mr} domain={PC_DOMAIN} ticks={PC_TICKS} interval={0} allowDataOverflow tickSize={0} tickMargin={0} tickLine={false} axisLine={{ stroke: AX, strokeWidth: 1.5 }} tick={makeYTick('right', true, 50)}
            label={() => (
              <text x={ml + PW + 105} y={MT + PH / 2} transform={`rotate(-90 ${ml + PW + 105} ${MT + PH / 2})`} textAnchor="middle" fill={TXT} style={vTitleStyle}>Distance from major axis (pc)</text>
            )} />
        )}
        {dash !== undefined && dashSegmentTo === undefined ? (
          <ReferenceLine xAxisId="b" yAxisId="l" x={dash} {...dashProps} />
        ) : null}
        {dash !== undefined && dashSegmentTo !== undefined ? (
          <ReferenceLine xAxisId="b" yAxisId="l" segment={[{ x: dash, y: 2.65 }, { x: dash, y: dashSegmentTo }]} {...dashProps} />
        ) : null}
        {split !== undefined ? <ReferenceLine xAxisId="b" yAxisId="l" y={split} stroke={AX} strokeWidth={1.5} /> : null}
        {split !== undefined
          ? SEP_TICKS.map((t) => (
              <ReferenceLine key={'st' + t} xAxisId="b" yAxisId="l" segment={[{ x: t, y: split }, { x: t, y: split - (isMul(t, 100) ? 0.4 : 0.2) }]} stroke={AX} strokeWidth={1.3} />
            ))
          : null}
        {gas ? <Scatter xAxisId="b" yAxisId="l" data={toObj(gas)} shape={Plus} isAnimationActive={false} /> : null}
        <Scatter xAxisId="b" yAxisId="l" data={toObj(c1)} shape={Dot} isAnimationActive={false} />
        <Scatter xAxisId="b" yAxisId="l" data={toObj(c2)} shape={Square} isAnimationActive={false} />
        <Scatter xAxisId="b" yAxisId="l" data={toObj(c3)} shape={Star} isAnimationActive={false} />
        {labels.map((l) => (
          <ReferenceDot key={l.text} xAxisId="b" yAxisId="l" x={l.v} y={l.a} r={0.01} fill="none" stroke="none"
            label={(p: any) => {
              const vb = p && p.viewBox ? p.viewBox : { x: 0, y: 0 };
              return (
                <text x={vb.x} y={vb.y} fill={TXT} style={{ fontFamily: FONT, fontWeight: 300, fontSize: 21.5, letterSpacing: 1.2, whiteSpace: 'pre' }}>{l.text}</text>
              );
            }} />
        ))}
        {legend ? (
          <Legend layout="vertical" align="center" verticalAlign="middle" content={() => <LegendBox />}
            wrapperStyle={{ position: 'absolute', left: 120, top: 60, width: 200, height: 102, margin: 0, padding: 0 }} />
        ) : null}
      </ScatterChart>
    </div>
  );
}

export default function App() {
  return (
    <div style={{ position: 'absolute', left: 0, top: 0, width: 1180, height: 1387, background: '#fff', overflow: 'hidden' }}>
      <Panel col={0} row={0} c1={slit1C1} c2={slit1C2} c3={slit1C3} gas={slit1Gas} dash={0} labels={[{ text: 'slit  1', v: 80.5, a: -12.5 }]} legend />
      <Panel col={0} row={1} c1={slit2C1} c2={slit2C2} c3={slit2C3} dash={slit2Systemic} labels={[{ text: 'slit  2', v: 80.5, a: -12.5 }]} />
      <Panel col={0} row={2} c1={slit3C1} c2={slit3C2} c3={slit3C3} dash={slit3Systemic} labels={[{ text: 'slit  3', v: 80.5, a: -12.5 }]} />
      <Panel col={1} row={0} c1={slit4C1} c2={slit4C2} c3={slit4C3} dash={slit4aSystemic} dashSegmentTo={slit4Split} split={slit4Split} halfTicks
        labels={[{ text: 'slit  4a', v: 80.5, a: 1.0 }, { text: 'slit  4b', v: 80.5, a: -12.5 }]} />
      <Panel col={1} row={1} c1={slit5C1} c2={slit5C2} c3={slit5C3} dash={slit5Systemic} labels={[{ text: 'slit  5', v: 80.5, a: -12.5 }]} />
      <Panel col={1} row={2} c1={slit6C1} c2={slit6C2} c3={slit6C3} dash={slit6Systemic} labels={[{ text: 'slit  6', v: 80.5, a: -12.5 }]} />
    </div>
  );
}
